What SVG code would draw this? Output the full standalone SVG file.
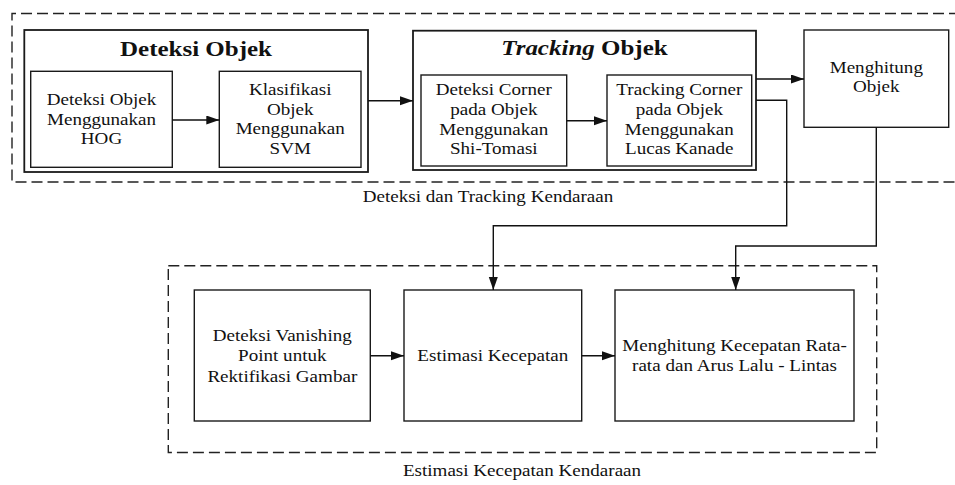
<svg xmlns="http://www.w3.org/2000/svg" width="955" height="485" viewBox="0 0 955 485">
<defs>
<style>
.bg{fill:#ffffff}
.box{fill:#ffffff;stroke:#1a1a1a;stroke-width:1.4}
.grp{fill:#ffffff;stroke:#1a1a1a;stroke-width:1.8}
.dash{fill:none;stroke:#222;stroke-width:1.4;stroke-dasharray:11 5}
.con{fill:none;stroke:#111;stroke-width:1.4}
text{font-family:'Liberation Serif','Times New Roman','DejaVu Serif',serif;fill:#111;text-anchor:middle}
.t{font-size:17.5px}
.ttl{font-size:21px;font-weight:bold}
</style>
<marker id="ah" markerUnits="userSpaceOnUse" markerWidth="14" markerHeight="10" refX="13" refY="4.5" orient="auto">
<path d="M0,0 L13,4.5 L0,9 z" fill="#111"/>
</marker>
</defs>
<rect class="bg" x="0" y="0" width="955" height="485"/>

<g id="cluster-deteksi-tracking" font-family="Liberation Serif, Times New Roman, serif">
<path class="dash" d="M960,13.5 H12 V182 H960"/>
<text class="t" transform="translate(488,0) scale(1.09,1)" x="0" y="202.5">Deteksi dan Tracking Kendaraan</text>
</g>
<g id="cluster-estimasi" font-family="Liberation Serif, Times New Roman, serif">
<rect class="dash" x="168.3" y="265.7" width="708.4" height="186.8"/>
<text class="t" transform="translate(522,0) scale(1.09,1)" x="0" y="476">Estimasi Kecepatan Kendaraan</text>
</g>

<g id="deteksi-objek" font-family="Liberation Serif, Times New Roman, serif">
<rect class="grp" x="24.3" y="30" width="343.7" height="142"/>
<text class="ttl" transform="translate(196,0) scale(1.19,1)" x="0" y="56">Deteksi Objek</text>
</g>
<g id="hog" font-family="Liberation Serif, Times New Roman, serif">
<rect class="box" x="30.7" y="71.3" width="141.6" height="96"/>
<text class="t" transform="translate(101.5,0) scale(1.09,1)"><tspan x="0" y="105.5">Deteksi Objek</tspan><tspan x="0" y="124.7">Menggunakan</tspan><tspan x="0" y="143.9">HOG</tspan></text>
</g>
<g id="svm" font-family="Liberation Serif, Times New Roman, serif">
<rect class="box" x="219.3" y="71.3" width="141.7" height="96"/>
<text class="t" transform="translate(290.2,0) scale(1.09,1)"><tspan x="0" y="95.5">Klasifikasi</tspan><tspan x="0" y="114.9">Objek</tspan><tspan x="0" y="134.3">Menggunakan</tspan><tspan x="0" y="153.7">SVM</tspan></text>
</g>

<g id="tracking-objek" font-family="Liberation Serif, Times New Roman, serif">
<rect class="grp" x="413" y="30.7" width="343" height="139.3"/>
<text class="ttl" transform="translate(584.5,0) scale(1.19,1)" x="0" y="55"><tspan font-style="italic">Tracking</tspan> Objek</text>
</g>
<g id="shi-tomasi" font-family="Liberation Serif, Times New Roman, serif">
<rect class="box" x="421" y="75" width="145.7" height="91"/>
<text class="t" transform="translate(493.8,0) scale(1.09,1)"><tspan x="0" y="95">Deteksi Corner</tspan><tspan x="0" y="114.8">pada Objek</tspan><tspan x="0" y="134.6">Menggunakan</tspan><tspan x="0" y="154.4">Shi-Tomasi</tspan></text>
</g>
<g id="lucas-kanade" font-family="Liberation Serif, Times New Roman, serif">
<rect class="box" x="607" y="75" width="144.7" height="91"/>
<text class="t" transform="translate(679.3,0) scale(1.09,1)"><tspan x="0" y="95">Tracking Corner</tspan><tspan x="0" y="114.8">pada Objek</tspan><tspan x="0" y="134.6">Menggunakan</tspan><tspan x="0" y="154.4">Lucas Kanade</tspan></text>
</g>

<g id="menghitung-objek" font-family="Liberation Serif, Times New Roman, serif">
<rect class="box" x="804" y="30" width="144.7" height="97.3"/>
<text class="t" transform="translate(876.3,0) scale(1.09,1)"><tspan x="0" y="73.3">Menghitung</tspan><tspan x="0" y="92.5">Objek</tspan></text>
</g>

<g id="vanishing-point" font-family="Liberation Serif, Times New Roman, serif">
<rect class="box" x="194.3" y="290" width="176" height="131"/>
<text class="t" transform="translate(282.3,0) scale(1.09,1)"><tspan x="0" y="340.8">Deteksi Vanishing</tspan><tspan x="0" y="361.2">Point untuk</tspan><tspan x="0" y="381.6">Rektifikasi Gambar</tspan></text>
</g>
<g id="estimasi-kecepatan" font-family="Liberation Serif, Times New Roman, serif">
<rect class="box" x="404" y="290" width="177.7" height="131"/>
<text class="t" transform="translate(492.8,0) scale(1.09,1)" x="0" y="361.3">Estimasi Kecepatan</text>
</g>
<g id="kecepatan-rata-rata" font-family="Liberation Serif, Times New Roman, serif">
<rect class="box" x="615" y="290" width="239" height="131"/>
<text class="t" transform="translate(734.5,0) scale(1.09,1)"><tspan x="0" y="350.6">Menghitung Kecepatan Rata-</tspan><tspan x="0" y="370.6">rata dan Arus Lalu - Lintas</tspan></text>
</g>

<g id="connectors">
<path class="con" d="M172.3,120 H219.3" marker-end="url(#ah)"/>
<path class="con" d="M368,100.7 H413" marker-end="url(#ah)"/>
<path class="con" d="M566.7,120.7 H607" marker-end="url(#ah)"/>
<path class="con" d="M756,79 H804" marker-end="url(#ah)"/>
<path class="con" d="M756,100.3 H786.7 V225.7 H493.3 V290" marker-end="url(#ah)"/>
<path class="con" d="M876.3,127.3 V246 H735.7 V290" marker-end="url(#ah)"/>
<path class="con" d="M370.3,355.7 H404" marker-end="url(#ah)"/>
<path class="con" d="M581.7,355.7 H615" marker-end="url(#ah)"/>
</g>
</svg>
